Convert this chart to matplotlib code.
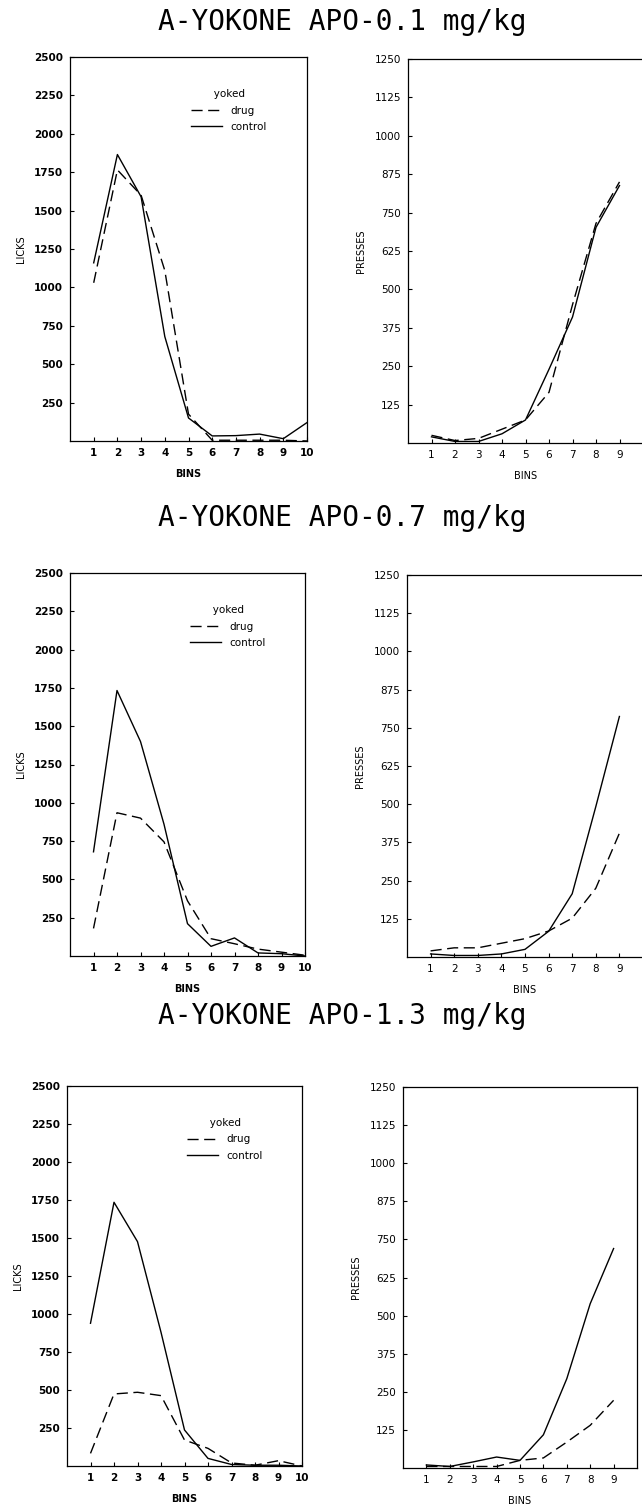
import matplotlib
matplotlib.use("Agg")
import matplotlib.pyplot as plt

# dose titles
titles = ["A-YOKONE APO-0.1 mg/kg", "A-YOKONE APO-0.7 mg/kg", "A-YOKONE APO-1.3 mg/kg"]

bins_licks = [1, 2, 3, 4, 5, 6, 7, 8, 9, 10]
bins_presses = [1, 2, 3, 4, 5, 6, 7, 8, 9]

# licks per bin (left panels)
licks_drug_01 = [1030, 1765, 1600, 1110, 175, 5, 5, 5, 5, 0]
licks_ctrl_01 = [1160, 1865, 1590, 680, 150, 33, 35, 45, 15, 120]
licks_drug_07 = [180, 935, 900, 745, 360, 113, 80, 45, 25, 5]
licks_ctrl_07 = [680, 1733, 1400, 860, 211, 63, 118, 20, 15, 0]
licks_drug_13 = [83, 474, 485, 463, 171, 116, 20, 5, 35, 0]
licks_ctrl_13 = [939, 1735, 1476, 880, 237, 50, 10, 5, 5, 0]

# presses per bin (right panels)
press_drug_01 = [25, 8, 15, 45, 75, 165, 450, 715, 850]
press_ctrl_01 = [20, 5, 5, 30, 75, 240, 410, 702, 838]
press_drug_07 = [20, 30, 30, 45, 60, 85, 127, 225, 405]
press_ctrl_07 = [10, 5, 5, 10, 25, 84, 207, 492, 787]
press_drug_13 = [5, 5, 5, 5, 25, 33, 85, 140, 222]
press_ctrl_13 = [10, 5, 20, 36, 25, 109, 293, 539, 720]

licks = [(licks_drug_01, licks_ctrl_01), (licks_drug_07, licks_ctrl_07), (licks_drug_13, licks_ctrl_13)]
presses = [(press_drug_01, press_ctrl_01), (press_drug_07, press_ctrl_07), (press_drug_13, press_ctrl_13)]

lick_ticks = [250, 500, 750, 1000, 1250, 1500, 1750, 2000, 2250, 2500]
press_ticks = [125, 250, 375, 500, 625, 750, 875, 1000, 1125, 1250]

W, H = 642, 1506
# axes boxes in pixels: (left, top, right, bottom)
left_boxes = [(70, 57, 307, 441), (70, 573, 305, 956), (67, 1086, 302, 1466)]
right_boxes = [(408, 59, 643, 443), (407, 575, 643, 957), (403, 1087, 637, 1468)]
title_y = [22, 518, 1016]

DASH = (0, (8, 4))

fig = plt.figure(figsize=(W / 100, H / 100), dpi=100)


def box_axes(b):
    l, t, r, btm = b
    return fig.add_axes([l / W, 1 - btm / H, (r - l) / W, (btm - t) / H])


def style(ax, yticks, ymax, xticks, ylabel, weight):
    ax.set_xlim(0, 10)
    ax.set_ylim(0, ymax)
    ax.set_xticks(xticks)
    ax.set_yticks(yticks)
    ax.tick_params(direction="in", length=3, width=0.8, labelsize=7.5, pad=5)
    for lab in ax.get_xticklabels() + ax.get_yticklabels():
        lab.set_fontweight(weight)
    ax.set_xlabel("BINS", fontsize=7, labelpad=8, fontweight=weight)
    ax.set_ylabel(ylabel, fontsize=7, labelpad=6)
    for s in ax.spines.values():
        s.set_linewidth(0.9)


for i in range(3):
    d, c = licks[i]
    ax = box_axes(left_boxes[i])
    ax.plot(bins_licks, d, color="black", lw=1.0, ls=DASH, label="drug")
    ax.plot(bins_licks, c, color="black", lw=1.0, label="control")
    style(ax, lick_ticks, 2500, bins_licks, "LICKS", "bold")
    ax.legend(loc="upper left", bbox_to_anchor=(0.47, 0.94), frameon=False,
              title="       yoked", fontsize=7.5, title_fontsize=7.5,
              handlelength=3, alignment="left", labelspacing=0.6)

    d, c = presses[i]
    ax = box_axes(right_boxes[i])
    ax.plot(bins_presses, d, color="black", lw=1.0, ls=DASH)
    ax.plot(bins_presses, c, color="black", lw=1.0)
    style(ax, press_ticks, 1250, bins_presses, "PRESSES", "normal")

    fig.text(342 / W, 1 - title_y[i] / H, titles[i], ha="center", va="center",
             fontsize=20, family="DejaVu Sans Mono")

fig.savefig("out.png", dpi=100)
